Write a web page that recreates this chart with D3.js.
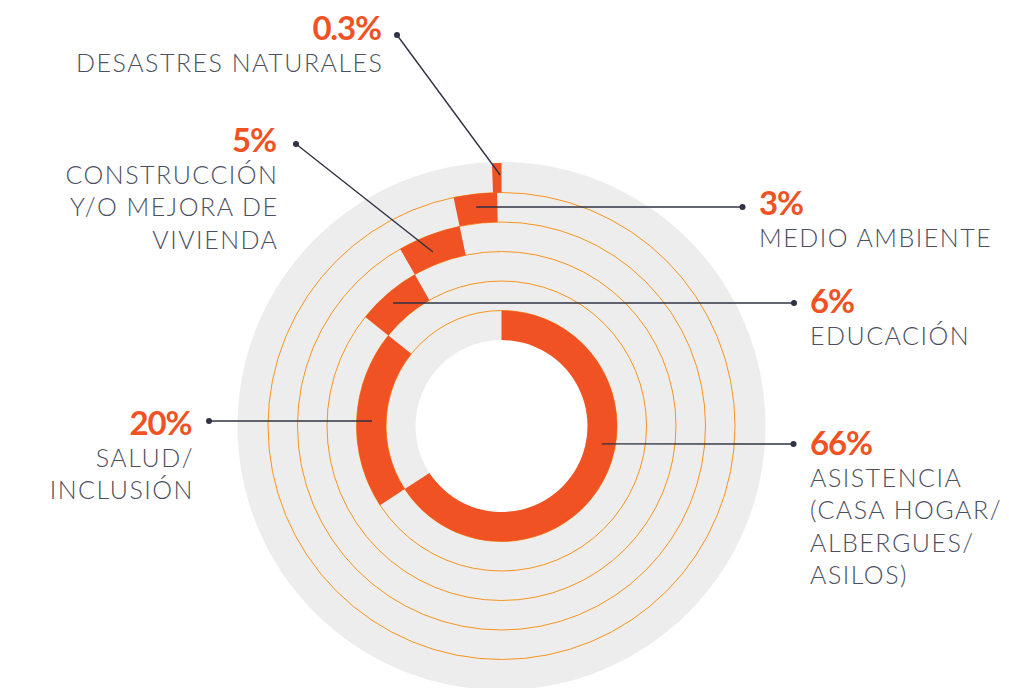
<!DOCTYPE html>
<html><head><meta charset="utf-8">
<script src="https://cdn.jsdelivr.net/npm/d3@7"></script>
<style>body{margin:0;background:#fff} svg{display:block}</style>
</head><body><svg id="c" width="1009" height="688"></svg>
<script>
// ---- data ----
const categories = ["ASISTENCIA (CASA HOGAR/ ALBERGUES/ ASILOS)", "SALUD/ INCLUSIÓN", "EDUCACIÓN", "CONSTRUCCIÓN Y/O MEJORA DE VIVIENDA", "MEDIO AMBIENTE", "DESASTRES NATURALES"];
const values = [66, 20, 6, 5, 3, 0.3];
const valueLabels = ["66%", "20%", "6%", "5%", "3%", "0.3%"];
const labelLines = [
  ["ASISTENCIA", "(CASA HOGAR/", "ALBERGUES/", "ASILOS)"],
  ["SALUD/", "INCLUSIÓN"],
  ["EDUCACIÓN"],
  ["CONSTRUCCIÓN", "Y/O MEJORA DE", "VIVIENDA"],
  ["MEDIO AMBIENTE"],
  ["DESASTRES NATURALES"]
];

// ---- annotation layout (positions only) ----
const annot = [
  {ang: 100.1, r: 102,   dot: [793.5, 444], anchor: "start", tx: 810,   ty: 455},
  {ang: 272.2, r: 129.6, dot: [209, 421],   anchor: "end",   tx: 192.5, ty: 435},
  {ang: 318.6, r: 164,   dot: [794, 303],   anchor: "start", tx: 810,   ty: 313},
  {ang: 338.5, r: 187,   dot: [296, 144],   anchor: "end",   tx: 277,   ty: 152},
  {ang: 353.4, r: 220.5, dot: [742.5, 207], anchor: "start", tx: 759,   ty: 215},
  {ang: 359.7, r: 251,   dot: [397, 35],    anchor: "end",   tx: 382,   ty: 40}
];

const ORANGE = "#f05223", THIN = "#f7941d", GRAY = "#ededed", TEXT = "#4b4f5f", LEAD = "#2f3242";
const MIN_ARC_PX = 9;
const cx = 501.5, cy = 426;
const svg = d3.select("#c");
const g = svg.append("g").attr("transform", `translate(${cx},${cy})`);

const total = d3.sum(values);
const angle = d3.scaleLinear().domain([0, total]).range([0, 2 * Math.PI]);
const ring = d3.scaleLinear().domain([0, values.length]).range([86, 263]);
const cum = values.map((v, i) => d3.sum(values.slice(0, i)));

// gray disk with white hole
g.append("path").attr("fill", GRAY)
  .attr("d", d3.arc()({innerRadius: ring(0), outerRadius: ring(values.length) + 1, startAngle: 0, endAngle: 2 * Math.PI}));

// thin orange ring boundaries
g.selectAll("circle.b").data(d3.range(1, values.length)).join("circle")
  .attr("r", d => ring(d)).attr("fill", "none").attr("stroke", THIN).attr("stroke-width", 1);

// bars (very small slices get a minimum visible width, extended backwards)
const arc = d3.arc();
g.selectAll("path.bar").data(values).join("path")
  .attr("fill", ORANGE)
  .attr("d", (v, i) => {
    const r0 = ring(i), r1 = ring(i + 1);
    const e = angle(cum[i] + v);
    let s = angle(cum[i]);
    const minA = MIN_ARC_PX / ((r0 + r1) / 2);
    if (e - s < minA) s = e - minA;
    return arc({innerRadius: r0, outerRadius: r1, startAngle: s, endAngle: e});
  });

// leaders + labels
const toXY = (deg, r) => [cx + r * Math.sin(deg * Math.PI / 180), cy - r * Math.cos(deg * Math.PI / 180)];
annot.forEach((a, i) => {
  const p = toXY(a.ang, a.r);
  svg.append("line").attr("x1", p[0]).attr("y1", p[1]).attr("x2", a.dot[0]).attr("y2", a.dot[1])
    .attr("stroke", LEAD).attr("stroke-width", 1.4);
  svg.append("circle").attr("cx", a.dot[0]).attr("cy", a.dot[1]).attr("r", 3).attr("fill", LEAD);
  const shiftP = a.anchor === "end" ? 1.2 : 0;
  svg.append("text").attr("x", a.tx + shiftP * -1).attr("y", a.ty).attr("text-anchor", a.anchor)
    .attr("font-family", "Lato").attr("font-weight", 700).attr("font-size", 33)
    .attr("letter-spacing", "-1.2px").attr("fill", ORANGE)
    .text(valueLabels[i]);
  const shiftL = a.anchor === "end" ? 1.5 : 0;
  const t = svg.append("text").attr("text-anchor", a.anchor)
    .attr("font-family", "Lato").attr("font-weight", 300).attr("font-size", 25)
    .attr("letter-spacing", "1.5px").attr("fill", TEXT);
  labelLines[i].forEach((ln, k) => {
    t.append("tspan").attr("x", a.tx + shiftL).attr("y", a.ty + 32 + k * 32.3).text(ln);
  });
});
</script></body></html>
